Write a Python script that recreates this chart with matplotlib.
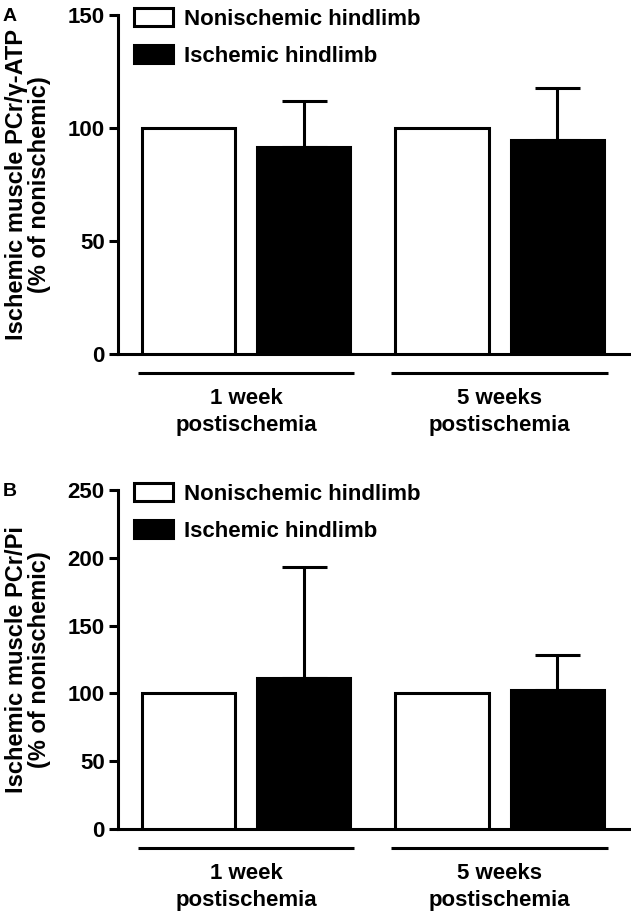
import numpy as np
import matplotlib
matplotlib.use("Agg")
import matplotlib.pyplot as plt
from matplotlib.patches import Patch
import matplotlib.transforms as mtransforms

plt.rcParams['font.family'] = ['Liberation Sans', 'DejaVu Sans']
plt.rcParams['font.weight'] = 'bold'

# data
groups = ["1 week\npostischemia", "5 weeks\npostischemia"]
series = ["Nonischemic hindlimb", "Ischemic hindlimb"]

# panel A: PCr / gamma-ATP (% of nonischemic)
atp_non = [100, 100]
atp_isc = [91.5, 94.5]
atp_isc_err = [20.5, 23]

# panel B: PCr / Pi (% of nonischemic)
pi_non = [100, 100]
pi_isc = [111, 102.5]
pi_isc_err = [82, 25.5]

ylabels = ["Ischemic muscle PCr/\u03b3-ATP\n(% of nonischemic)",
           "Ischemic muscle PCr/Pi\n(% of nonischemic)"]
ylims = [150, 250]
yticks = [np.arange(0, 151, 50), np.arange(0, 251, 50)]
panel_tags = ["A", "B"]

fs = 16
lw = 2.2
group_pos = np.array([1.0, 3.2])
bar_w = 0.81

fig = plt.figure(figsize=(6.31, 9.14), dpi=100)
ax_a = fig.add_axes([118 / 631, 1 - 354 / 914, 512 / 631, 339 / 914])
ax_b = fig.add_axes([118 / 631, 1 - 829 / 914, 512 / 631, 339 / 914])

panels = [(ax_a, atp_non, atp_isc, atp_isc_err),
          (ax_b, pi_non, pi_isc, pi_isc_err)]

for i, (ax, non, isc, err) in enumerate(panels):
    x_non = group_pos
    x_isc = group_pos + 1.0
    ax.bar(x_non, non, width=bar_w, color='white', edgecolor='black',
           linewidth=lw, label=series[0], zorder=3)
    ax.bar(x_isc, isc, width=bar_w, color='black', edgecolor='black',
           linewidth=lw, label=series[1], zorder=3)
    ax.errorbar(x_isc, isc, yerr=[np.zeros(len(err)), err], fmt='none',
                ecolor='black', elinewidth=lw, capsize=16.2, capthick=lw, zorder=2)

    ax.set_xlim(0.39, 4.83)
    ax.set_ylim(0, ylims[i])
    ax.set_yticks(yticks[i])
    ax.set_xticks([])
    for side in ['top', 'right']:
        ax.spines[side].set_visible(False)
    for side in ['left', 'bottom']:
        ax.spines[side].set_linewidth(lw)
    ax.tick_params(axis='y', length=6.5, width=lw, labelsize=fs, pad=3)
    for t in ax.get_yticklabels():
        t.set_fontweight('bold')

    ax.set_ylabel(ylabels[i], fontsize=17, fontweight='bold', linespacing=1.05)
    ax.yaxis.set_label_coords(-0.13, 0.5)

    # group bars and labels below the axis
    trans = mtransforms.blended_transform_factory(ax.transData, ax.transAxes)
    for g, name in zip(group_pos + 0.5, groups):
        ax.plot([g - 0.94, g + 0.94], [-0.056, -0.056], color='black',
                linewidth=lw, transform=trans, clip_on=False,
                solid_capstyle='butt')
        ax.text(g, -0.1, name, transform=trans, ha='center', va='top',
                fontsize=fs, fontweight='bold', linespacing=1.4)

    handles = [Patch(facecolor='white', edgecolor='black', linewidth=lw),
               Patch(facecolor='black', edgecolor='black', linewidth=lw)]
    ax.legend(handles, series, loc='upper left', bbox_to_anchor=(0.031, 1.02),
              frameon=False, borderpad=0, borderaxespad=0, handlelength=1.75,
              handleheight=0.85, handletextpad=0.5, labelspacing=0.7,
              prop={'size': fs, 'weight': 'bold'})

    ax.text(-0.225, 1.02, panel_tags[i], transform=ax.transAxes, fontsize=14,
            fontweight='bold', ha='left', va='top')

fig.savefig("out.png", dpi=100)
